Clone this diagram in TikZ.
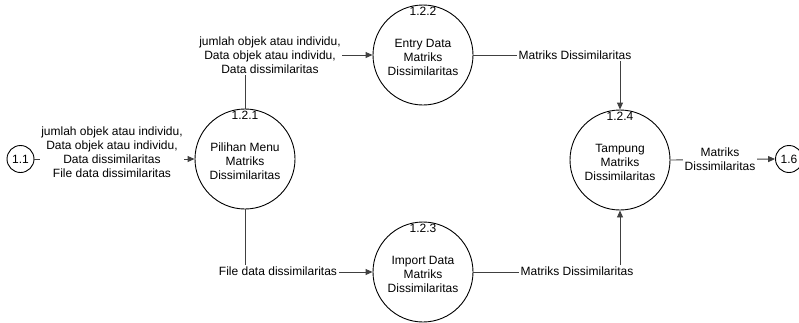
\documentclass[tikz,border=0pt]{standalone}
\usepackage{fontspec}
\setmainfont{Liberation Sans}
\usetikzlibrary{arrows.meta}
\begin{document}
\begin{tikzpicture}[x=1pt,y=-1pt,
  font=\fontsize{12}{14}\selectfont,
  proc/.style={circle, draw=black, line width=0.9pt, minimum size=100pt, inner sep=0pt, align=center},
  ext/.style={circle, draw=black, line width=0.9pt, minimum size=27pt, inner sep=0pt},
  flow/.style={draw=black!75, line width=0.9pt, -{Triangle[length=7pt,width=6pt]}},
  lbl/.style={fill=white, align=center, inner sep=1.5pt}]
\useasboundingbox (0,0) rectangle (799,322);
\node[ext] (p11) at (20.5,159) {1.1};
\node[ext] (p16) at (789,159) {1.6};
\node[proc, label={[anchor=north, inner sep=2pt]north:1.2.1}] (p121) at (245,159) {\\Pilihan Menu\\Matriks\\Dissimilaritas};
\node[proc, label={[anchor=north, inner sep=2pt]north:1.2.2}] (p122) at (423,55) {\\Entry Data\\Matriks\\Dissimilaritas};
\node[proc, label={[anchor=north, inner sep=2pt]north:1.2.3}] (p123) at (423,272) {\\Import Data\\Matriks\\Dissimilaritas};
\node[proc, label={[anchor=north, inner sep=2pt]north:1.2.4}] (p124) at (620,160) {\\Tampung\\Matriks\\Dissimilaritas};
\draw[flow] (p11) -- (p121);
\draw[flow] (p121.north) |- (p122.west);
\draw[flow] (p121.south) |- (p123.west);
\draw[flow] (p122.east) -| (p124.north);
\draw[flow] (p123.east) -| (p124.south);
\draw[flow] (p124.east) -- (p16.west);
\node[lbl] (l1) at (112,152) {jumlah objek atau individu,\\Data objek atau individu,\\Data dissimilaritas\\File data dissimilaritas};
\node[lbl] (l2) at (270,55) {jumlah objek atau individu,\\Data objek atau individu,\\Data dissimilaritas};
\node[lbl] (l3) at (278,271) {File data dissimilaritas};
\node[lbl] (l4) at (575,55) {Matriks Dissimilaritas};
\node[lbl] (l5) at (577,271) {Matriks Dissimilaritas};
\node[lbl] (l6) at (720,159) {Matriks\\Dissimilaritas};
\end{tikzpicture}
\end{document}
